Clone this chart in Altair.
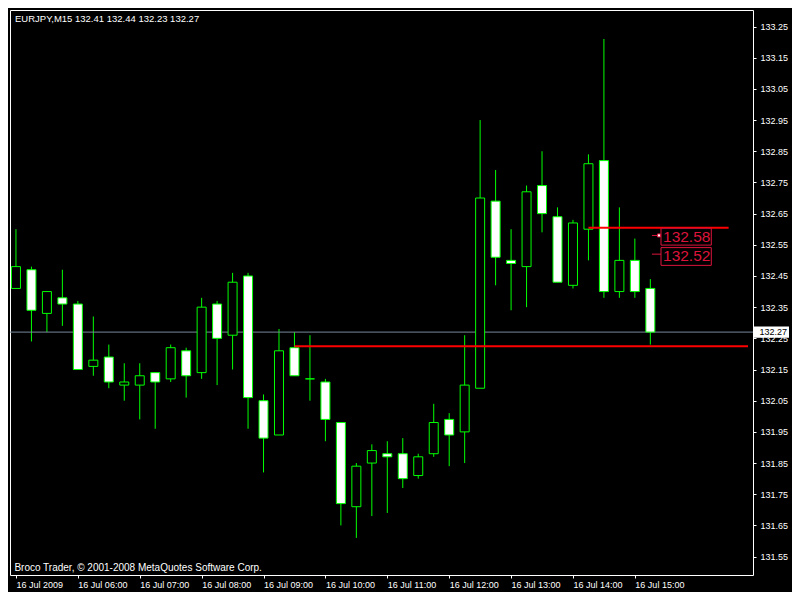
import altair as alt
import pandas as pd

# ---- candle data (EURJPY M15, 16 Jul 2009 05:00 .. 15:15) ----
opens = [132.41, 132.47, 132.33, 132.38, 132.36, 132.16, 132.19, 132.10, 132.10, 132.14,
         132.12, 132.21, 132.14, 132.36, 132.26, 132.45, 132.05, 131.94, 132.22, 132.12,
         132.11, 131.98, 131.71, 131.85, 131.88, 131.88, 131.81, 131.88, 131.99, 131.95,
         132.09, 132.69, 132.50, 132.48, 132.74, 132.64, 132.42, 132.60, 132.82, 132.40,
         132.50, 132.41]
highs = [132.60, 132.48, 132.40, 132.47, 132.37, 132.32, 132.23, 132.17, 132.17, 132.14,
         132.23, 132.22, 132.38, 132.37, 132.46, 132.46, 132.07, 132.28, 132.27, 132.26,
         132.12, 131.98, 131.85, 131.91, 131.92, 131.93, 131.88, 132.04, 132.01, 132.26,
         132.95, 132.79, 132.60, 132.74, 132.85, 132.67, 132.63, 132.84, 133.21, 132.67,
         132.57, 132.44]
lows = [132.41, 132.24, 132.27, 132.29, 132.15, 132.13, 132.09, 132.05, 131.99, 131.96,
        132.11, 132.06, 132.12, 132.10, 132.15, 131.96, 131.82, 131.94, 132.13, 132.05,
        131.92, 131.65, 131.61, 131.68, 131.69, 131.77, 131.80, 131.87, 131.84, 131.85,
        132.09, 132.42, 132.34, 132.35, 132.59, 132.43, 132.41, 132.50, 132.38, 132.38,
        132.38, 132.23]
closes = [132.48, 132.34, 132.40, 132.36, 132.15, 132.18, 132.11, 132.11, 132.13, 132.11,
          132.22, 132.13, 132.35, 132.25, 132.43, 132.06, 131.93, 132.21, 132.13, 132.12,
          131.99, 131.72, 131.84, 131.89, 131.87, 131.80, 131.87, 131.98, 131.94, 132.10,
          132.70, 132.51, 132.49, 132.72, 132.65, 132.43, 132.62, 132.81, 132.40, 132.50,
          132.40, 132.27]

time_ticks = [0, 4, 8, 12, 16, 20, 24, 28, 32, 36, 40]
time_labels = ["16 Jul 2009", "16 Jul 06:00", "16 Jul 07:00", "16 Jul 08:00",
               "16 Jul 09:00", "16 Jul 10:00", "16 Jul 11:00", "16 Jul 12:00",
               "16 Jul 13:00", "16 Jul 14:00", "16 Jul 15:00"]
price_ticks = [131.55, 131.65, 131.75, 131.85, 131.95, 132.05, 132.15, 132.25, 132.35,
               132.45, 132.55, 132.65, 132.75, 132.85, 132.95, 133.05, 133.15, 133.25]

bid_price = 132.27
title_text = "EURJPY,M15  132.41 132.44 132.23 132.27"
copyright_text = "Broco Trader, \u00a9 2001-2008 MetaQuotes Software Corp."

# horizontal red lines (price, start bar, end bar)
red_prices = [132.225, 132.605]
red_start = [18, 37]
red_end = [47.3125, 46.06]

# price labels
label_prices = [132.58, 132.52]
label_texts = ["132.58", "132.52"]
label_box_top = [132.603, 132.541]
label_box_bottom = [132.549, 132.484]
label_box_left = [41.69, 41.69]
label_box_right = [44.94, 44.94]
label_tick_start = [41.1, 41.1]
label_tick_end = [41.56, 41.69]

X_DOMAIN = [-0.0625, 47.3125]
Y_DOMAIN = [131.491, 133.303]

LIME = "#00FF00"
CRIMSON = "#DC143C"
FONT = "Liberation Sans"

candles = pd.DataFrame({"i": list(range(len(opens))), "open": opens, "high": highs,
                        "low": lows, "close": closes})
candles["fill"] = ["#FFFFFF" if c < o else "#000000" for o, c in zip(opens, closes)]

xs = alt.Scale(domain=X_DOMAIN, nice=False, zero=False)
ys = alt.Scale(domain=Y_DOMAIN, nice=False, zero=False)

label_js = "[" + ",".join("'%s'" % t for t in time_labels) + "]"

x_axis = alt.Axis(values=time_ticks, labelExpr=label_js + "[round(datum.value/4)]",
                  orient="bottom", domain=False, grid=False, tickColor="white", tickSize=3,
                  labelColor="white", labelFont=FONT, labelFontSize=9, labelAlign="left",
                  labelBaseline="top", labelPadding=2, labelOverlap=False, labelFlush=False,
                  labelBound=False, title=None)
y_axis = alt.Axis(values=price_ticks, format=".2f", orient="right", domain=False, grid=False,
                  tickColor="white", tickSize=3, labelColor="white", labelFont=FONT,
                  labelFontSize=9, labelPadding=4, labelBaseline="middle", labelOverlap=False,
                  labelFlush=False, labelBound=False, title=None)


def X(field):
    return alt.X(field, scale=xs, axis=x_axis, title=None)


def Y(field):
    return alt.Y(field, scale=ys, axis=y_axis, title=None)


wicks = alt.Chart(candles).mark_rule(color=LIME, strokeWidth=1).encode(
    x=X("i:Q"), y=Y("low:Q"), y2="high:Q",
)

bid_df = pd.DataFrame({"p": [bid_price]})
bid_line = alt.Chart(bid_df).mark_rule(color="#778899", strokeWidth=1).encode(
    y=Y("p:Q")
)

bodies = alt.Chart(candles).mark_bar(size=9, stroke=LIME, strokeWidth=1).encode(
    x=X("i:Q"), y=Y("open:Q"), y2="close:Q",
    fill=alt.Fill("fill:N", scale=None),
)

red_df = pd.DataFrame({"p": red_prices, "s": red_start, "e": red_end})
red_lines = alt.Chart(red_df).mark_rule(color="#FF0000", strokeWidth=2).encode(
    x=X("s:Q"), x2="e:Q", y=Y("p:Q"),
)

lab_df = pd.DataFrame({"p": label_prices, "t": label_texts, "top": label_box_top,
                       "bot": label_box_bottom, "l": label_box_left, "r": label_box_right,
                       "ts": label_tick_start, "te": label_tick_end})
lab_df["mid"] = [(a + b) / 2 for a, b in zip(label_box_top, label_box_bottom)]
lab_boxes = alt.Chart(lab_df).mark_rect(fill="#000000", stroke=CRIMSON, strokeWidth=1).encode(
    x=X("l:Q"), x2="r:Q", y=Y("bot:Q"), y2="top:Q",
)
lab_ticks = alt.Chart(lab_df).mark_rule(color=CRIMSON, strokeWidth=1).encode(
    x=X("ts:Q"), x2="te:Q", y=Y("p:Q"),
)
lab_text = alt.Chart(lab_df).mark_text(color=CRIMSON, font=FONT, fontSize=15.5, align="left",
                                        baseline="middle", dx=2).encode(
    x=X("l:Q"), y=Y("mid:Q"), text="t:N",
)
lab_mark = alt.Chart(lab_df.iloc[[0]]).mark_square(size=9, fill="#FFFFFF", stroke=CRIMSON,
                                                   strokeWidth=1, opacity=1).encode(
    x=X("te:Q"), y=Y("p:Q"),
)

# current price marker on the price axis
cur_df = pd.DataFrame({"p": [bid_price], "lo": [bid_price - 0.018], "hi": [bid_price + 0.018],
                       "t": ["%.2f" % bid_price]})
cur_box = alt.Chart(cur_df).mark_rect(fill="#FFFFFF").encode(
    x=alt.value(744), x2=alt.value(779),
    y=Y("lo:Q"), y2="hi:Q",
)
cur_text = alt.Chart(cur_df).mark_text(color="#000000", font=FONT, fontSize=9, align="left",
                                       baseline="middle").encode(
    x=alt.value(749.5), y=Y("p:Q"), text="t:N",
)

title_df = pd.DataFrame({"t": [title_text]})
title = alt.Chart(title_df).mark_text(color="#FFFFFF", font=FONT, fontSize=9.5, align="left",
                                      baseline="middle").encode(
    x=alt.value(5), y=alt.value(8.7), text="t:N")
copy_df = pd.DataFrame({"t": [copyright_text]})
copyright = alt.Chart(copy_df).mark_text(color="#FFFFFF", font=FONT, fontSize=10, align="left",
                                         baseline="middle").encode(
    x=alt.value(4.4), y=alt.value(557.7), text="t:N")

chart = alt.layer(
    wicks, bid_line, bodies, red_lines, lab_boxes, lab_ticks, lab_text, lab_mark,
    cur_box, cur_text, title, copyright,
).properties(
    width=743, height=565,
    autosize=alt.AutoSizeParams(type="none"),
    padding={"left": 2, "top": 2, "right": 39, "bottom": 17},
    background="#000000",
).configure_view(stroke="#FFFFFF", strokeWidth=1)

chart.save("out.html", embed_options={"renderer": "svg", "actions": False})
